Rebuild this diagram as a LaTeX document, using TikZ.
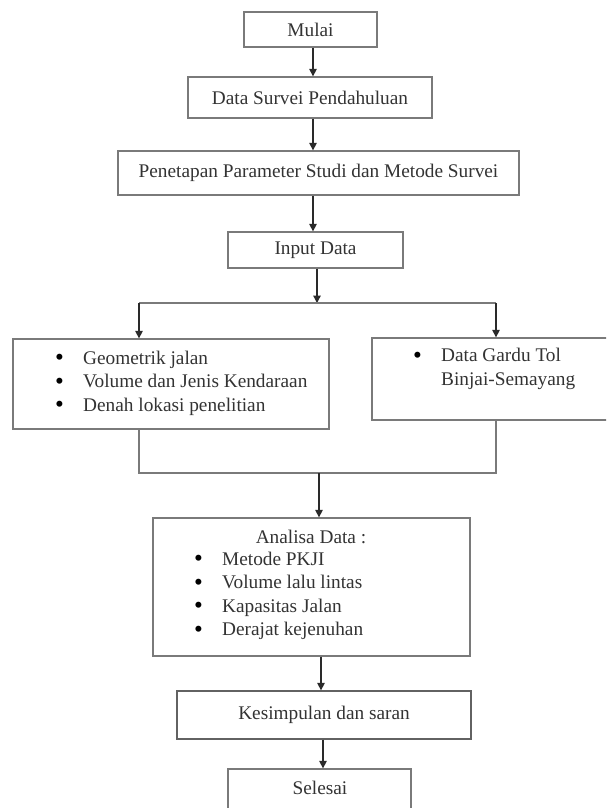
\documentclass[tikz,border=0pt]{standalone}
\usepackage{fontspec}
\setmainfont{Liberation Serif}
\usetikzlibrary{arrows.meta}
\definecolor{boxgray}{HTML}{7A7A7A}
\definecolor{txtgray}{HTML}{333333}
\definecolor{arrgray}{HTML}{2A2A2A}
\newcommand{\myfs}{\fontsize{19.3}{23.5}\selectfont}
\newcommand{\bul}{\makebox[28pt][l]{\textcolor{black}{\raisebox{-1.6pt}{\scalebox{1.3}{\textbullet}}}}}
\begin{document}
\begin{tikzpicture}[x=1pt,y=-1pt,
  box/.style={draw=boxgray, line width=1.3pt, rectangle, inner sep=0pt, font=\myfs, text=txtgray},
  txt/.style={inner sep=0pt, font=\myfs, text=txtgray, align=left},
  arr/.style={draw=arrgray, line width=1.3pt, -{Triangle[length=7.5pt,width=7.5pt]}},
  ln/.style={draw=boxgray, line width=1.3pt}]
\useasboundingbox (0,0) rectangle (606,808);
\clip (0,0) rectangle (606,808);
\fill[white] (0,0) rectangle (606,808);

\node[box, minimum width=133, minimum height=35] (mulai) at (310.5,29.5) {Mulai};
\node[box, minimum width=244, minimum height=41] (survei) at (310,97.5) {Data Survei Pendahuluan};
\node[box, minimum width=401, minimum height=44] (param) at (318.5,173) {Penetapan Parameter Studi dan Metode Survei};
\node[box, minimum width=175, minimum height=36] (input) at (315.5,250) {Input Data};
\node[box, minimum width=316, minimum height=90] (geo) at (171,384) {};
\node[box, minimum width=300, minimum height=82] (gardu) at (522,379) {};
\node[box, minimum width=317, minimum height=138] (analisa) at (311.5,587) {};
\node[box, draw=boxgray!80!black, minimum width=294, minimum height=48] (kesim) at (324,715) {Kesimpulan dan saran};
\node[box, minimum width=183, minimum height=60] (selesai) at (319.5,799) {};

\node[txt, anchor=west] (geotxt) at (55,383) {\bul Geometrik jalan\\\bul Volume dan Jenis Kendaraan\\\bul Denah lokasi penelitian};
\node[txt, anchor=west] (gardutxt) at (413,369) {\bul Data Gardu Tol\\\hspace*{28pt}Binjai-Semayang};
\node[txt] (antitle) at (311,537) {Analisa Data :};
\node[txt, anchor=west] (antxt) at (194,596) {\bul Metode PKJI\\\bul Volume lalu lintas\\\bul Kapasitas Jalan\\\bul Derajat kejenuhan};
\node[txt] (seltxt) at (320,788) {Selesai};

\coordinate (t1) at (313,0);
\coordinate (split) at (317,303);
\coordinate (hl) at (139,303);
\coordinate (hr) at (496,303);
\coordinate (jl) at (139,473);
\coordinate (jr) at (496,473);
\coordinate (jm) at (319,473);
\coordinate (a1) at (321,0);
\coordinate (k1) at (323,0);

\draw[arr] (mulai.south -| t1) -- (survei.north -| t1);
\draw[arr] (survei.south -| t1) -- (param.north -| t1);
\draw[arr] (param.south -| t1) -- (input.north -| t1);
\draw[arr] (input.south -| split) -- (split);
\draw[ln] (hl) -- (hr);
\draw[arr] (hl) -- (geo.north -| hl);
\draw[arr] (hr) -- (gardu.north -| hr);
\draw[ln] (geo.south -| jl) -- (jl) -- (jr) -- (gardu.south -| jr);
\draw[arr] (jm) -- (analisa.north -| jm);
\draw[arr] (analisa.south -| a1) -- (kesim.north -| a1);
\draw[arr] (kesim.south -| k1) -- (selesai.north -| k1);
\end{tikzpicture}
\end{document}
